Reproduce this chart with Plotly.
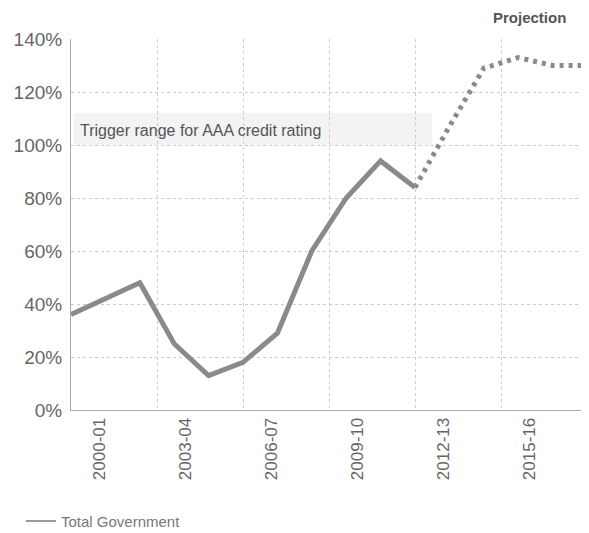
import plotly.graph_objects as go

# ---- data ----
periods = ["1999-00", "2000-01", "2001-02", "2002-03", "2003-04", "2004-05", "2005-06",
           "2006-07", "2007-08", "2008-09", "2009-10", "2010-11", "2011-12", "2012-13",
           "2013-14", "2014-15"]
actual_values = [36, 42, 48, 25, 13, 18, 29, 60, 80, 94, 84]          # first 11 periods
projection_values = [84, 107, 129, 133, 130, 130]                     # last 6 periods (joined)
tick_years = [2000, 2003, 2006, 2009, 2012, 2015]
tick_labels = ["2000-01", "2003-04", "2006-07", "2009-10", "2012-13", "2015-16"]
grid_years = [1999, 2002, 2005, 2008, 2011, 2014, 2017]
year_range = [1999, 2017]
y_ticks = [0, 20, 40, 60, 80, 100, 120, 140]
trigger_band = [100, 112]

LINE = "#8a8a8a"
TXT = "#666666"
GRID = "#cccccc"
FONT = "Liberation Sans"

fig = go.Figure()

# invisible trace anchoring the labelled year axis
fig.add_trace(go.Scatter(x=[None], y=[None], xaxis="x", yaxis="y",
                         showlegend=False, hoverinfo="skip"))

fig.add_trace(go.Scatter(
    x=periods[:len(actual_values)], y=actual_values, xaxis="x3", mode="lines",
    line=dict(color=LINE, width=5), name="Total Government", showlegend=False))
fig.add_trace(go.Scatter(
    x=periods[len(actual_values) - 1:], y=projection_values, xaxis="x3", mode="lines",
    line=dict(color=LINE, width=5, dash="4px,5px"), name="Projection", showlegend=False))
# legend entry (thin line sample like the original)
fig.add_trace(go.Scatter(x=[None], y=[None], xaxis="x3", mode="lines",
                         line=dict(color="#999999", width=2), name="Total Government",
                         showlegend=True))

# trigger band
fig.add_shape(type="rect", xref="paper", yref="y", x0=0.005, x1=0.70,
              y0=trigger_band[0], y1=trigger_band[1],
              fillcolor="#f3f3f3", line=dict(width=0), layer="below")

fig.add_annotation(text="Trigger range for AAA credit rating", xref="paper", yref="y",
                   x=0.014, y=105.5, xanchor="left", yanchor="middle", showarrow=False,
                   font=dict(family=FONT, size=16, color="#555555"))
fig.add_annotation(text="<b>Projection</b>", xref="paper", yref="paper",
                   x=0.888, y=1.057, xanchor="center", yanchor="middle", showarrow=False,
                   font=dict(family=FONT, size=15, color="#555555"))

# page body adds an 8px offset, so the figure is 8px smaller and shifted margins
fig.update_layout(
    width=581, height=525,
    margin=dict(l=63, r=2, t=31, b=123, autoexpand=False),
    paper_bgcolor="white", plot_bgcolor="white",
    font=dict(family=FONT, color=TXT),
    xaxis=dict(range=year_range, tickmode="array", tickvals=tick_years, ticktext=tick_labels,
               tickangle=-90, showgrid=False, zeroline=False, showline=True,
               linecolor="#aaaaaa", linewidth=1, ticks="", automargin=False,
               tickfont=dict(family=FONT, size=17, color=TXT),
               minor=dict(tickmode="array", tickvals=grid_years, showgrid=True,
                          gridcolor=GRID, griddash="dot", gridwidth=1, ticks="")),
    xaxis3=dict(type="category", range=[0, len(periods) - 1], overlaying="x",
                visible=False, showgrid=False),
    yaxis=dict(range=[0, 140], tickmode="array", tickvals=y_ticks,
               ticktext=[f"{v}%" for v in y_ticks], showgrid=True, gridcolor=GRID,
               griddash="dot", zeroline=False, showline=True, linecolor="#aaaaaa",
               linewidth=1, ticks="", ticklabelstandoff=4, automargin=False,
               tickfont=dict(family=FONT, size=19, color=TXT)),
    legend=dict(x=-0.097, y=-0.3, xanchor="left", yanchor="middle",
                font=dict(family=FONT, size=15, color="#777777"),
                bgcolor="rgba(0,0,0,0)"),
    showlegend=True,
)

fig.write_html("out.html")
